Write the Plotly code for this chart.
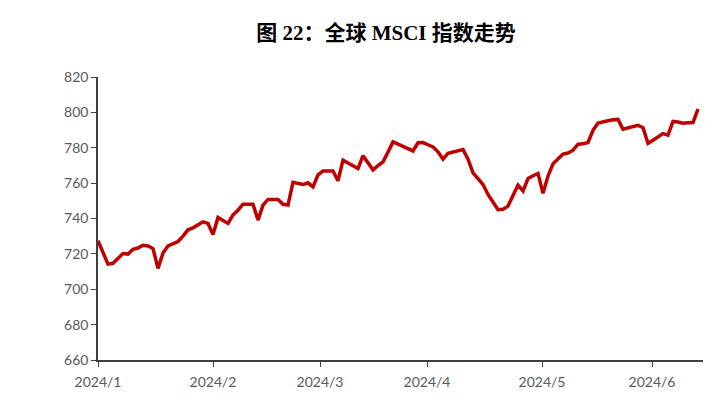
import plotly.graph_objects as go

# MSCI index daily values
values = [
    727.4, 720.8, 714.2, 714.7, 717.5, 720.2, 719.9, 722.6, 723.3, 724.9,
    724.5, 723.0, 711.8, 720.5, 724.5, 725.7, 727.0, 730.0, 733.6, 734.7,
    736.4, 738.1, 737.2, 731.0, 740.6, 738.9, 737.2, 742.0, 744.7, 748.1,
    748.1, 748.1, 739.1, 747.5, 750.8, 750.8, 750.8, 748.0, 747.6, 760.5,
    760.0, 759.2, 760.2, 757.9, 764.7, 766.9, 766.9, 766.9, 761.3, 773.0,
    771.4, 769.6, 768.3, 775.5, 771.5, 767.5, 769.9, 772.0, 777.5, 783.3,
    782.0, 780.6, 779.3, 778.2, 782.8, 782.9, 781.7, 780.5, 777.7, 773.6,
    776.8, 777.5, 778.3, 779.0, 773.5, 765.8, 762.6, 759.2, 753.6, 749.7,
    745.0, 745.2, 747.0, 753.0, 758.9, 755.6, 762.6, 764.2, 765.5, 754.2,
    764.0, 770.9, 773.9, 776.4, 777.0, 778.6, 782.0, 782.2, 783.0, 789.9,
    794.0, 794.8, 795.3, 795.8, 796.0, 790.5, 791.3, 792.0, 792.7, 791.3,
    782.5, 784.2, 786.4, 788.0, 787.1, 794.9, 794.6, 793.9, 794.1, 794.3,
    801.8,
]
x_index = list(range(len(values)))

# month tick positions (trading-day index) and labels
tick_positions = [0, 23, 44.4, 65.8, 88.8, 110.8]
tick_labels = ["2024/1", "2024/2", "2024/3", "2024/4", "2024/5", "2024/6"]

y_ticks = [660, 680, 700, 720, 740, 760, 780, 800, 820]

fig = go.Figure()
fig.add_trace(go.Scatter(
    x=x_index, y=values, mode="lines",
    line=dict(color="#C00000", width=3.5),
    hoverinfo="skip", showlegend=False,
))

tick_font = dict(family="Lato, DejaVu Sans, sans-serif", size=14, color="#595959")

fig.update_layout(
    width=720, height=407,
    margin=dict(l=90, r=25, t=69, b=55),
    paper_bgcolor="white", plot_bgcolor="white",
    title=dict(
        text="<b>图 22：全球 MSCI 指数走势</b>",
        x=0.525, xanchor="center", y=0.9386, yanchor="middle",
        font=dict(family="Liberation Serif, Noto Sans CJK SC, serif", size=21, color="black"),
    ),
    xaxis=dict(
        range=[0, 121], tickmode="array", tickvals=tick_positions, ticktext=tick_labels,
        showgrid=False, zeroline=False, showline=True, linecolor="#404040", linewidth=1.5,
        ticks="outside", ticklen=5, tickcolor="#404040", tickwidth=1.2,
        tickfont=tick_font, ticklabelstandoff=3,
    ),
    yaxis=dict(
        range=[660, 820], tickmode="array", tickvals=y_ticks,
        showgrid=False, zeroline=False, showline=True, linecolor="#404040", linewidth=1.5,
        ticks="outside", ticklen=5, tickcolor="#404040", tickwidth=1.2,
        tickfont=tick_font,
    ),
)

fig.write_html("out.html")
